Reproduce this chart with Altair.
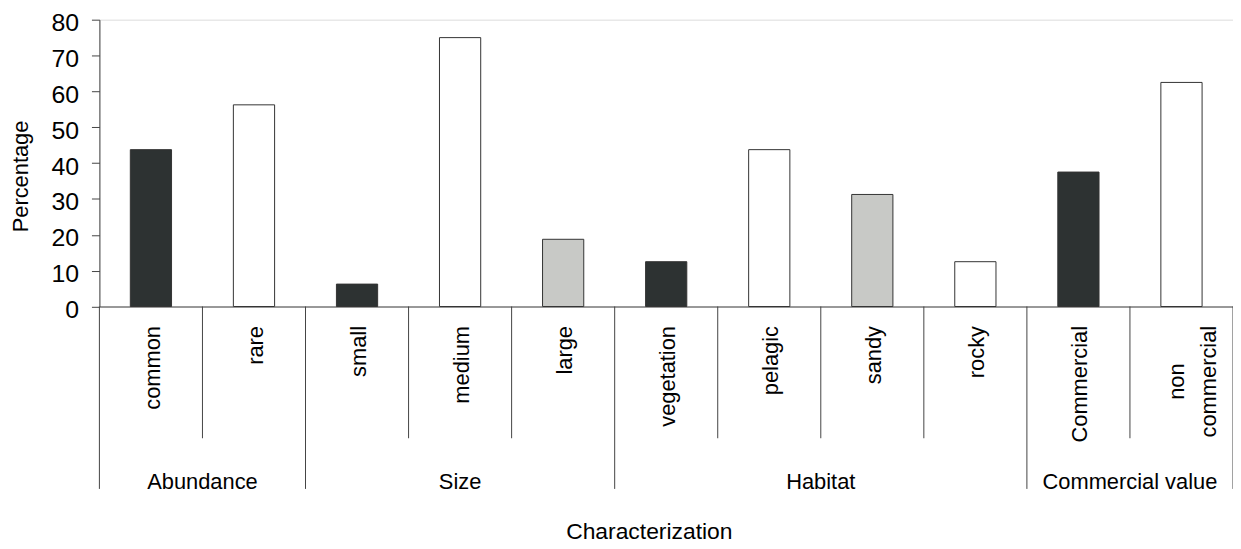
import altair as alt
import pandas as pd

# ---- data ----
categories = ["common", "rare", "small", "medium", "large", "vegetation",
              "pelagic", "sandy", "rocky", "Commercial", "non\ncommercial"]
groups = ["Abundance", "Abundance", "Size", "Size", "Size", "Habitat",
          "Habitat", "Habitat", "Habitat", "Commercial value", "Commercial value"]
percentages = [43.75, 56.25, 6.25, 75.0, 18.75, 12.5, 43.75, 31.25, 12.5, 37.5, 62.5]
shades = ["dark", "white", "dark", "white", "gray", "dark", "white", "gray",
          "white", "dark", "white"]
y_ticks = [0, 10, 20, 30, 40, 50, 60, 70, 80]

shade_domain = ["dark", "white", "gray"]
shade_range = ["#2d3232", "#ffffff", "#c8c9c6"]

FONT = "Liberation Sans"
LINE = "#444444"

n = len(categories)
df = pd.DataFrame({
    "idx": list(range(n)),
    "category": categories,
    "group": groups,
    "pct": percentages,
    "shade": shades,
})
df["multi"] = df["category"].str.contains("\n")

# boundaries between categories (long ones separate groups)
bounds = []
for i in range(n + 1):
    long_ = i == 0 or i == n or groups[i] != groups[i - 1]
    bounds.append({"pos": i, "long": long_})
bounds_df = pd.DataFrame(bounds)

# group centres
grp_rows = []
for g in dict.fromkeys(groups):
    ids = [i for i, gg in enumerate(groups) if gg == g]
    grp_rows.append({"group": g, "center": (ids[0] + ids[-1] + 1) / 2})
grp_df = pd.DataFrame(grp_rows)

PAD_TOP = 10.0
PLOT_H = 288.7          # x axis line at page y ~306.7
OFF = PLOT_H - 291.4    # keep elements below the axis at their page positions

x_scale = alt.Scale(domain=[0, n], nice=False, zero=False)
y_scale = alt.Scale(domain=[0, 80], nice=False)

x_axis = alt.Axis(labels=False, ticks=False, grid=False, domain=True,
                  domainColor=LINE, title="Characterization",
                  titleFontSize=23, titleFontWeight="normal", titleColor="black",
                  titleX=553, titleY=234, titleAlign="center",
                  titleBaseline="alphabetic", titleFont=FONT)
y_axis = alt.Axis(values=y_ticks, grid=False, domainColor=LINE, tickColor=LINE,
                  tickSize=8, labelFontSize=25, labelPadding=13, labelColor="black",
                  labelFont=FONT, labelOffset=3, title="Percentage", titleFontSize=22,
                  titleFontWeight="normal", titleColor="black", titleFont=FONT,
                  titleAngle=270, titleX=-72, titleY=160 + OFF, titleAlign="center",
                  titleBaseline="alphabetic")

bars = alt.Chart(df).transform_calculate(
    x0="datum.idx + 0.3", x1="datum.idx + 0.7", base="0"
).mark_bar(stroke="#333333", strokeWidth=1).encode(
    x=alt.X("x0:Q", scale=x_scale, axis=x_axis),
    x2="x1:Q",
    y=alt.Y("pct:Q", scale=y_scale, axis=y_axis),
    y2="base:Q",
    color=alt.Color("shade:N", scale=alt.Scale(domain=shade_domain, range=shade_range),
                    legend=None),
)

short_rules = alt.Chart(bounds_df).transform_filter("!datum.long").mark_rule(
    color=LINE, strokeWidth=1).encode(
    x=alt.X("pos:Q", scale=x_scale, axis=x_axis),
    y=alt.value(PLOT_H), y2=alt.value(424 + OFF),
)
long_rules = alt.Chart(bounds_df).transform_filter("datum.long").mark_rule(
    color=LINE, strokeWidth=1).encode(
    x=alt.X("pos:Q", scale=x_scale, axis=x_axis),
    y=alt.value(PLOT_H), y2=alt.value(475 + OFF),
)

label_base = alt.Chart(df).transform_calculate(mid="datum.idx + 0.5")

single_labels = label_base.transform_filter("!datum.multi").mark_text(
    angle=270, align="right", baseline="middle", fontSize=22, font=FONT,
    color="black", dy=2).encode(
    x=alt.X("mid:Q", scale=x_scale, axis=x_axis),
    y=alt.value(311 + OFF),
    text="category:N",
)
multi_labels = label_base.transform_filter("datum.multi").mark_text(
    angle=270, align="center", baseline="middle", fontSize=22, font=FONT,
    color="black", lineBreak="\n", lineHeight=32, dy=-4).encode(
    x=alt.X("mid:Q", scale=x_scale, axis=x_axis),
    y=alt.value(367 + OFF),
    text="category:N",
)

group_labels = alt.Chart(grp_df).mark_text(
    align="center", baseline="alphabetic", fontSize=22, font=FONT, color="black"
).encode(
    x=alt.X("center:Q", scale=x_scale, axis=x_axis),
    y=alt.value(475 + OFF),
    text="group:N",
)

chart = alt.layer(
    bars, short_rules, long_rules, single_labels, multi_labels, group_labels
).properties(
    width=1141, height=PLOT_H,
    padding={"left": 92, "top": PAD_TOP, "right": 0, "bottom": 242},
    autosize="none",
).configure_view(stroke=None).configure(font=FONT)

chart.save("out.html", embed_options={"renderer": "svg", "actions": False})
